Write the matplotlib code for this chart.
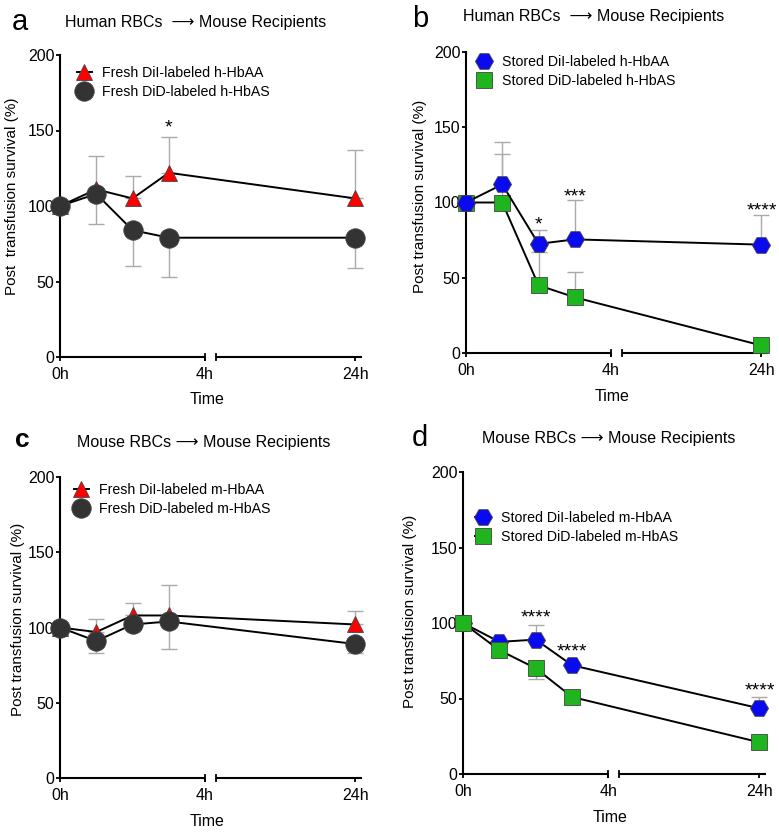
import numpy as np
import matplotlib
matplotlib.use("Agg")
import matplotlib.pyplot as plt

plt.rcParams['font.family'] = ['Liberation Sans', 'DejaVu Sans']

# ---------------- data ----------------
hours = [0, 1, 2, 3, 24]
x_ticks = [0, 4, 24]
x_ticklabels = ["0h", "4h", "24h"]
y_ticks = [0, 50, 100, 150, 200]

# panel a
a_labels = ["Fresh DiI-labeled h-HbAA", "Fresh DiD-labeled h-HbAS"]
a_hbaa = [100, 111, 105, 122, 105]
a_hbaa_err_up = [0, 22, 15, 24, 32]
a_hbas = [100, 108, 84, 79, 79]
a_hbas_err_dn = [0, 20, 24, 26, 20]
a_stars = [(3, 153.6, "*")]

# panel b
b_labels = ["Stored DiI-labeled h-HbAA", "Stored DiD-labeled h-HbAS"]
b_hbaa = [100, 112, 72.5, 75.5, 72]
b_hbaa_err_up = [0, 28, 9, 26, 19.5]
b_hbas = [100, 100, 45, 37, 5]
b_hbas_err_up = [0, 32, 22, 17, 0]
b_stars = [(2, 87, "*"), (3, 106, "***"), (24, 96.5, "****")]

# panel c
c_labels = ["Fresh DiI-labeled m-HbAA", "Fresh DiD-labeled m-HbAS"]
c_hbaa = [100, 97, 108, 108, 102]
c_hbaa_err_up = [0, 8.5, 8.5, 20, 9]
c_hbas = [100, 91, 102, 104, 89]
c_hbas_err_dn = [0, 8, 3, 18, 6]

# panel d
d_labels = ["Stored DiI-labeled m-HbAA", "Stored DiD-labeled m-HbAS"]
d_hbaa = [100, 87.5, 89, 72, 43.5]
d_hbaa_err_up = [0, 0, 10, 0, 7.5]
d_hbas = [100, 82, 70, 51, 21]
d_hbas_err_dn = [0, 0, 7, 0, 0]
d_stars = [(2, 105.4, "****"), (3, 83, "****"), (24, 56.7, "****")]

titles = ["Human RBCs  \u27f6 Mouse Recipients", "Human RBCs  \u27f6 Mouse Recipients",
          "Mouse RBCs \u27f6 Mouse Recipients", "Mouse RBCs \u27f6 Mouse Recipients"]

# ---------------- broken time scale ----------------
K = 4.15 / 20.0


def fwd(t):
    t = np.asarray(t, dtype=float)
    return np.where(t <= 4, t, 4 + (t - 4) * K)


def inv(p):
    p = np.asarray(p, dtype=float)
    return np.where(p <= 4, p, 4 + (p - 4) / K)


XMAX = float(inv(8.33))
BREAK_START = float(inv(4.30))

W, H = 779, 834
fig = plt.figure(figsize=(W / 100, H / 100), dpi=100)


def px_axes(left, top, right, bottom):
    return fig.add_axes([left / W, 1 - bottom / H, (right - left) / W, (bottom - top) / H])


def ftext(x, y, s, **kw):
    fig.text(x / W, 1 - y / H, s, **kw)


RED = "#ff0000"
DARK = "#333333"
BLUE = "#0a0af0"
GREEN = "#1fb51f"
ERR = "#aaaaaa"


def style_axes(ax):
    ax.set_xscale('function', functions=(fwd, inv))
    ax.set_xlim(0, XMAX)
    ax.set_ylim(0, 200)
    ax.set_yticks(y_ticks)
    ax.set_xticks(x_ticks)
    ax.set_xticklabels(x_ticklabels)
    for s in ["top", "right", "bottom"]:
        ax.spines[s].set_visible(False)
    ax.spines["left"].set_linewidth(1.5)
    ax.tick_params(axis='y', direction='out', length=3, width=1.3, pad=1, labelsize=11.5)
    ax.tick_params(axis='x', direction='out', length=3, width=1.3, pad=4, labelsize=11.5)
    ax.minorticks_off()
    kw = dict(color="black", lw=1.5, clip_on=False, solid_capstyle='butt')
    ax.plot([0, 4], [0, 0], **kw)
    ax.plot([BREAK_START, XMAX], [0, 0], **kw)
    ax.plot([4, 4], [-2.2, 2.2], color="black", lw=1.3, clip_on=False)
    ax.plot([BREAK_START, BREAK_START], [-2.2, 2.2], color="black", lw=1.3, clip_on=False)


def series(ax, y, err, upper, marker, color, ms, label, z):
    zeros = [0] * len(err)
    yerr = [zeros, err] if upper else [err, zeros]
    ax.errorbar(hours, y, yerr=yerr, fmt='none', ecolor=ERR, elinewidth=1.0,
                capsize=5.5, capthick=1.0, zorder=1, clip_on=False)
    ln, = ax.plot(hours, y, color="black", lw=1.4, marker=marker, ms=ms,
                  mfc=color, mec="#444444", mew=0.6, label=label, zorder=z, clip_on=False)
    return ln


def add_stars(ax, stars):
    for t, yv, s in stars:
        ax.text(t, yv - 5.0, s, ha='center', va='baseline', fontsize=14)


def legend(ax, handles, x, y):
    ax.legend(handles=handles, loc='upper left', bbox_to_anchor=(x, y),
              frameon=False, fontsize=10.2, handlelength=1.1, handletextpad=0.7,
              labelspacing=0.35, borderaxespad=0, borderpad=0)


# ---- panel a ----
ax = px_axes(60, 55, 362, 357)
style_axes(ax)
h1 = series(ax, a_hbaa, a_hbaa_err_up, True, '^', RED, 12, a_labels[0], 3)
h2 = series(ax, a_hbas, a_hbas_err_dn, False, 'o', DARK, 14, a_labels[1], 4)
add_stars(ax, a_stars)
legend(ax, [h1, h2], 0.055, 0.965)

# ---- panel b ----
ax = px_axes(466, 52, 768, 353)
style_axes(ax)
h2 = series(ax, b_hbas, b_hbas_err_up, True, 's', GREEN, 11.5, b_labels[1], 3)
h1 = series(ax, b_hbaa, b_hbaa_err_up, True, 'H', BLUE, 13, b_labels[0], 4)
add_stars(ax, b_stars)
legend(ax, [h1, h2], 0.035, 0.99)

# ---- panel c ----
ax = px_axes(60, 477, 362, 778)
style_axes(ax)
h1 = series(ax, c_hbaa, c_hbaa_err_up, True, '^', RED, 12, c_labels[0], 3)
h2 = series(ax, c_hbas, c_hbas_err_dn, False, 'o', DARK, 14, c_labels[1], 4)
legend(ax, [h1, h2], 0.045, 0.98)

# ---- panel d ----
ax = px_axes(463, 472, 766, 774)
style_axes(ax)
h1 = series(ax, d_hbaa, d_hbaa_err_up, True, 'H', BLUE, 13, d_labels[0], 3)
h2 = series(ax, d_hbas, d_hbas_err_dn, False, 's', GREEN, 11.5, d_labels[1], 4)
add_stars(ax, d_stars)
legend(ax, [h1, h2], 0.04, 0.87)

# ---- texts ----
ylab = "Post transfusion survival (%)"
ftext(20, 22, "a", fontsize=21, ha='center', va='center')
ftext(420, 19, "b", fontsize=21, ha='center', va='center')
ftext(22, 440, "c", fontsize=19, ha='center', va='center', fontweight='bold')
ftext(420, 438, "d", fontsize=21, ha='center', va='center')

ftext(196, 22, titles[0], fontsize=11.5, ha='center', va='center')
ftext(594, 17, titles[1], fontsize=11.5, ha='center', va='center')
ftext(204, 443, titles[2], fontsize=11.5, ha='center', va='center')
ftext(609, 439, titles[3], fontsize=11.5, ha='center', va='center')

ftext(12, 196, "Post  transfusion survival (%)", fontsize=11, rotation=90, ha='center', va='center')
ftext(420, 196, ylab, fontsize=11, rotation=90, ha='center', va='center')
ftext(18, 619, ylab, fontsize=11, rotation=90, ha='center', va='center')
ftext(410, 611, ylab, fontsize=11, rotation=90, ha='center', va='center')

ftext(207, 400, "Time", fontsize=11.5, ha='center', va='center')
ftext(612, 397, "Time", fontsize=11.5, ha='center', va='center')
ftext(207, 822, "Time", fontsize=11.5, ha='center', va='center')
ftext(610, 818, "Time", fontsize=11.5, ha='center', va='center')

fig.savefig("out.png", dpi=100)
